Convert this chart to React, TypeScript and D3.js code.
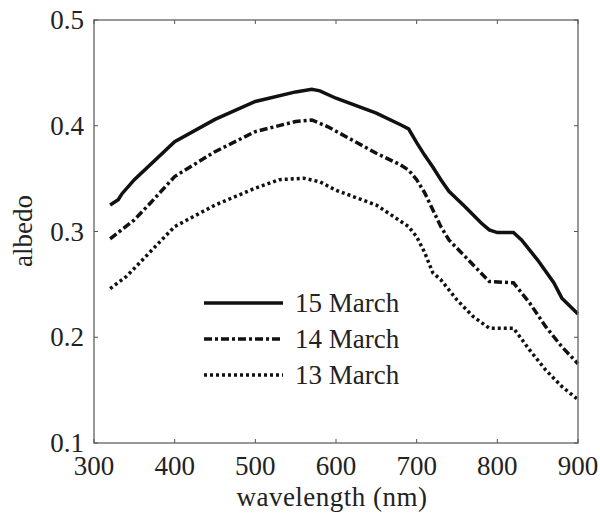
import React, { useEffect, useRef } from "react"
import * as d3 from "d3"

// wavelength (nm) and albedo
const wl15 = [320, 330, 335, 350, 400, 450, 500, 550, 570, 580, 600, 650, 680, 690, 700, 710, 720, 730, 740, 760, 780, 790, 800, 820, 830, 850, 870, 880, 900]
const march15 = [0.325, 0.33, 0.336, 0.349, 0.385, 0.406, 0.423, 0.432, 0.4345, 0.433, 0.426, 0.412, 0.401, 0.397, 0.384, 0.372, 0.361, 0.349, 0.338, 0.3235, 0.308, 0.3015, 0.299, 0.299, 0.292, 0.273, 0.2515, 0.237, 0.222]

const wl14 = [320, 350, 370, 400, 450, 500, 550, 570, 590, 620, 650, 680, 690, 700, 710, 720, 730, 740, 760, 780, 790, 820, 840, 860, 880, 900]
const march14 = [0.293, 0.311, 0.327, 0.352, 0.3755, 0.3945, 0.404, 0.4055, 0.399, 0.3865, 0.374, 0.363, 0.358, 0.349, 0.3365, 0.3205, 0.3046, 0.292, 0.2763, 0.2606, 0.2527, 0.2515, 0.2325, 0.21, 0.191, 0.175]

const wl13 = [320, 340, 360, 380, 400, 450, 500, 530, 560, 580, 600, 650, 690, 700, 710, 720, 730, 750, 770, 790, 820, 840, 860, 880, 900]
const march13 = [0.246, 0.2574, 0.273, 0.289, 0.3046, 0.325, 0.341, 0.349, 0.3504, 0.347, 0.339, 0.325, 0.3046, 0.295, 0.28, 0.261, 0.2543, 0.2353, 0.2196, 0.2086, 0.2086, 0.188, 0.169, 0.1534, 0.141]

const seriesNames = ["15 March", "14 March", "13 March"]
const xTicks = [300, 400, 500, 600, 700, 800, 900]
const yTicks = [0.1, 0.2, 0.3, 0.4, 0.5]

const W = 600
const H = 518
const font = "'Liberation Serif', 'Times New Roman', serif"
const fs = 27

export default function App() {
    const ref = useRef<SVGSVGElement>(null)

    useEffect(() => {
        const svg = d3.select(ref.current)
        svg.selectAll("*").remove()

        const left = 94, right = 578, top = 20, bottom = 443
        const x = d3.scaleLinear().domain([300, 900]).range([left, right])
        const y = d3.scaleLinear().domain([0.1, 0.5]).range([bottom, top])

        const series = [
            { name: seriesNames[0], xs: wl15, ys: march15, dash: null },
            { name: seriesNames[1], xs: wl14, ys: march14, dash: "8,3,3,3" },
            { name: seriesNames[2], xs: wl13, ys: march13, dash: "3,3" },
        ]

        const line = d3.line<[number, number]>()
            .x(d => x(d[0]))
            .y(d => y(d[1]))

        series.forEach(s => {
            const pts: [number, number][] = s.xs.map((w, i) => [w, s.ys[i]])
            svg.append("path")
                .attr("d", line(pts))
                .attr("fill", "none")
                .attr("stroke", "#111")
                .attr("stroke-width", 3.5)
                .attr("stroke-dasharray", s.dash)
        })

        // box
        svg.append("rect")
            .attr("x", left).attr("y", top)
            .attr("width", right - left).attr("height", bottom - top)
            .attr("fill", "none")
            .attr("stroke", "#777")
            .attr("stroke-width", 1.5)

        // ticks pointing inwards on all sides
        const tk = 4
        xTicks.forEach(t => {
            svg.append("line").attr("x1", x(t)).attr("x2", x(t))
                .attr("y1", bottom).attr("y2", bottom - tk)
                .attr("stroke", "#555").attr("stroke-width", 1)
            svg.append("line").attr("x1", x(t)).attr("x2", x(t))
                .attr("y1", top).attr("y2", top + tk)
                .attr("stroke", "#555").attr("stroke-width", 1)
            svg.append("text")
                .attr("x", x(t)).attr("y", 475)
                .attr("text-anchor", "middle")
                .attr("font-family", font).attr("font-size", fs)
                .attr("fill", "#222")
                .text(t)
        })
        yTicks.forEach(t => {
            svg.append("line").attr("x1", left).attr("x2", left + tk)
                .attr("y1", y(t)).attr("y2", y(t))
                .attr("stroke", "#555").attr("stroke-width", 1)
            svg.append("line").attr("x1", right).attr("x2", right - tk)
                .attr("y1", y(t)).attr("y2", y(t))
                .attr("stroke", "#555").attr("stroke-width", 1)
            svg.append("text")
                .attr("x", 84).attr("y", y(t) + 9)
                .attr("text-anchor", "end")
                .attr("font-family", font).attr("font-size", fs)
                .attr("fill", "#222")
                .text(t.toFixed(1))
        })

        svg.append("text")
            .attr("x", 332).attr("y", 506)
            .attr("text-anchor", "middle")
            .attr("font-family", font).attr("font-size", fs)
            .attr("letter-spacing", 0.5)
            .attr("fill", "#222")
            .text("wavelength (nm)")
        svg.append("text")
            .attr("transform", `translate(32,231) rotate(-90)`)
            .attr("text-anchor", "middle")
            .attr("font-family", font).attr("font-size", fs)
            .attr("fill", "#222")
            .text("albedo")

        // legend
        series.forEach((s, i) => {
            const ly = 303 + i * 36
            svg.append("line")
                .attr("x1", 204).attr("x2", 283)
                .attr("y1", ly).attr("y2", ly)
                .attr("stroke", "#111").attr("stroke-width", 3.5)
                .attr("stroke-dasharray", s.dash)
            svg.append("text")
                .attr("x", 295).attr("y", ly + 9)
                .attr("font-family", font).attr("font-size", fs)
                .attr("fill", "#222")
                .text(s.name)
        })
    }, [])

    return (
        <svg ref={ref} width={W} height={H}
            style={{ position: "absolute", left: 0, top: 0, background: "#fff" }} />
    )
}
